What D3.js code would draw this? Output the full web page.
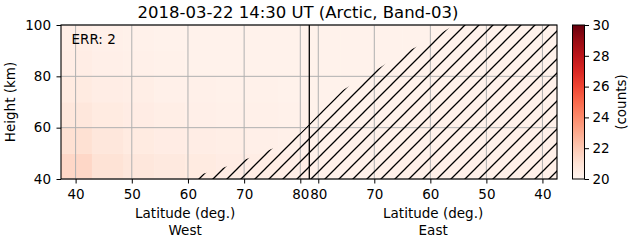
<!DOCTYPE html>
<html>
<head>
<meta charset="utf-8">
<script src="https://cdn.jsdelivr.net/npm/d3@7"></script>
<style>
  body { margin: 0; background: #fff; }
  svg { font-family: "DejaVu Sans", sans-serif; }
</style>
</head>
<body>
<script>
// data
var title = "2018-03-22 14:30 UT (Arctic, Band-03)";
var errLabel = "ERR: 2";
var latTicks = [40, 50, 60, 70, 80];
var heightTicks = [40, 60, 80, 100];
var countTicks = [20, 22, 24, 26, 28, 30];
var latDomain = [37.4, 81.6];
var heightDomain = [40, 100];
var countDomain = [20, 30];

// cell edges of the count image
var latEdges = [37.4, 42.9, 48.5, 54.0, 59.5, 65.0, 70.5, 76.1, 81.6];
var heightEdges = [40, 50, 60, 70, 80, 90, 100];

// rows go bottom to top, columns go with latitude ascending
var westCounts = [
  [21.5, 21.0, 20.8, 20.7, 20.6, 20.5, 20.45, 20.4],
  [21.1, 20.8, 20.6, 20.5, 20.45, 20.4, 20.35, 20.3],
  [20.8, 20.6, 20.5, 20.4, 20.35, 20.3, 20.3, 20.25],
  [20.6, 20.45, 20.4, 20.3, 20.3, 20.25, 20.25, 20.2],
  [20.45, 20.35, 20.3, 20.25, 20.2, 20.2, 20.2, 20.2],
  [20.4, 20.3, 20.25, 20.2, 20.2, 20.2, 20.2, 20.2]
];
var eastCounts = [
  [20.3, 20.3, 20.3, 20.3, 20.3, 20.3, 20.25, 20.25],
  [20.3, 20.3, 20.25, 20.25, 20.25, 20.25, 20.25, 20.25],
  [20.25, 20.25, 20.25, 20.25, 20.25, 20.2, 20.2, 20.2],
  [20.25, 20.25, 20.2, 20.2, 20.2, 20.2, 20.2, 20.2],
  [20.2, 20.2, 20.2, 20.2, 20.2, 20.2, 20.2, 20.2],
  [20.2, 20.2, 20.2, 20.2, 20.2, 20.2, 20.2, 20.2]
];

// edge of the hatched (no data) area, from bottom-left to top-right
var edgeSide   = ["W", "W", "W", "W", "W", "W", "W", "W", "E", "E", "E", "E", "E", "E", "E"];
var edgeLat    = [61.6, 62.7, 65.7, 68.9, 71.9, 75.7, 80.0, 81.6, 80.1, 75.6, 70.5, 65.5, 61.4, 56.6, 55.8];
var edgeHeight = [40.0, 42.0, 43.9, 46.6, 49.0, 52.5, 57.9, 61.4, 64.9, 74.7, 81.3, 88.3, 92.6, 98.8, 100.0];

// layout
var W = 631, H = 243;
var mLeft = 61, mMid = 309.3, mRight = 557, mTop = 25, mBottom = 179;
var fs = 13.5;

var svg = d3.select("body").append("svg")
  .attr("width", W)
  .attr("height", H);

var xW = d3.scaleLinear().domain(latDomain).range([mLeft, mMid]);
var xE = d3.scaleLinear().domain(latDomain.slice().reverse()).range([mMid, mRight]);
var y = d3.scaleLinear().domain(heightDomain).range([mBottom, mTop]);
var color = d3.scaleSequential(d3.interpolateReds).domain(countDomain);

function xSide(side, lat) { return side == "W" ? xW(lat) : xE(lat); }

// image cells
function drawCells(counts, xs) {
  var cells = [];
  counts.forEach(function(row, i) {
    row.forEach(function(v, j) {
      cells.push({ i: i, j: j, v: v });
    });
  });
  svg.append("g").selectAll("rect")
    .data(cells)
    .enter().append("rect")
      .attr("x", function(d) { return Math.min(xs(latEdges[d.j]), xs(latEdges[d.j + 1])); })
      .attr("width", function(d) { return Math.abs(xs(latEdges[d.j + 1]) - xs(latEdges[d.j])) + 0.5; })
      .attr("y", function(d) { return y(heightEdges[d.i + 1]); })
      .attr("height", function(d) { return y(heightEdges[d.i]) - y(heightEdges[d.i + 1]) + 0.5; })
      .attr("fill", function(d) { return color(d.v); });
}
drawCells(westCounts, xW);
drawCells(eastCounts, xE);

// grid
var grid = svg.append("g").attr("stroke", "#b0b0b0").attr("stroke-width", 1);
latTicks.forEach(function(t) {
  [xW(t), xE(t)].forEach(function(px) {
    grid.append("line").attr("x1", px).attr("x2", px).attr("y1", mTop).attr("y2", mBottom);
  });
});
heightTicks.forEach(function(t) {
  grid.append("line").attr("x1", mLeft).attr("x2", mRight).attr("y1", y(t)).attr("y2", y(t));
});

// hatch pattern for the no data area
var defs = svg.append("defs");
var pat = defs.append("pattern")
  .attr("id", "hatch")
  .attr("patternUnits", "userSpaceOnUse")
  .attr("width", 14)
  .attr("height", 14);
pat.append("path")
  .attr("d", "M-1,1 L1,-1 M0,14 L14,0 M13,15 L15,13")
  .attr("stroke", "#000")
  .attr("stroke-width", 1.3);

var pts = edgeLat.map(function(lat, k) {
  return [xSide(edgeSide[k], lat), y(edgeHeight[k])];
});
pts.push([xE(latDomain[0]), y(heightDomain[1])]);
pts.push([xE(latDomain[0]), y(heightDomain[0])]);
svg.append("path")
  .attr("d", d3.line()(pts) + "Z")
  .attr("fill", "url(#hatch)");

// divider between west and east
svg.append("line")
  .attr("x1", mMid).attr("x2", mMid)
  .attr("y1", mTop).attr("y2", mBottom)
  .attr("stroke", "#000")
  .attr("stroke-width", 1.3);

// frame
svg.append("rect")
  .attr("x", mLeft).attr("y", mTop)
  .attr("width", mRight - mLeft).attr("height", mBottom - mTop)
  .attr("fill", "none")
  .attr("stroke", "#000")
  .attr("stroke-width", 1.1);

// axes
function styleAxis(g) {
  g.select(".domain").remove();
  g.selectAll("text").attr("font-size", fs).attr("fill", "#000")
    .attr("font-family", "DejaVu Sans");
  g.selectAll("line").attr("stroke", "#000");
}
svg.append("g")
  .attr("transform", "translate(0," + mBottom + ")")
  .call(d3.axisBottom(xW).tickValues(latTicks).tickSize(4.5).tickPadding(5.5))
  .call(styleAxis);
svg.append("g")
  .attr("transform", "translate(0," + mBottom + ")")
  .call(d3.axisBottom(xE).tickValues(latTicks).tickSize(4.5).tickPadding(5.5))
  .call(styleAxis);
svg.append("g")
  .attr("transform", "translate(" + mLeft + ",0)")
  .call(d3.axisLeft(y).tickValues(heightTicks).tickSize(4.5).tickPadding(5.5))
  .call(styleAxis);

// labels
svg.append("text")
  .attr("x", 298).attr("y", 17.5)
  .attr("text-anchor", "middle")
  .attr("font-size", 16.5)
  .text(title);

svg.append("text")
  .attr("x", 71.5).attr("y", 43.5)
  .attr("font-size", fs)
  .text(errLabel);

svg.append("text")
  .attr("transform", "translate(15," + ((mTop + mBottom) / 2) + ") rotate(-90)")
  .attr("text-anchor", "middle")
  .attr("font-size", fs)
  .text("Height (km)");

[["West", (mLeft + mMid) / 2], ["East", (mMid + mRight) / 2]].forEach(function(d) {
  svg.append("text")
    .attr("x", d[1]).attr("y", 218)
    .attr("text-anchor", "middle")
    .attr("font-size", fs)
    .text("Latitude (deg.)");
  svg.append("text")
    .attr("x", d[1]).attr("y", 235)
    .attr("text-anchor", "middle")
    .attr("font-size", fs)
    .text(d[0]);
});

// colorbar
var cbX = 572.5, cbW = 12;
var cy = d3.scaleLinear().domain(countDomain).range([mBottom, mTop]);
var grad = defs.append("linearGradient")
  .attr("id", "cbar")
  .attr("x1", 0).attr("y1", 1).attr("x2", 0).attr("y2", 0);
d3.range(0, 1.0001, 0.1).forEach(function(t) {
  grad.append("stop")
    .attr("offset", t)
    .attr("stop-color", d3.interpolateReds(t));
});
svg.append("rect")
  .attr("x", cbX).attr("y", mTop)
  .attr("width", cbW).attr("height", mBottom - mTop)
  .attr("fill", "url(#cbar)")
  .attr("stroke", "#000")
  .attr("stroke-width", 1);
svg.append("g")
  .attr("transform", "translate(" + (cbX + cbW) + ",0)")
  .call(d3.axisRight(cy).tickValues(countTicks).tickSize(4.5).tickPadding(3.5))
  .call(styleAxis);
svg.append("text")
  .attr("transform", "translate(626," + ((mTop + mBottom) / 2) + ") rotate(-90)")
  .attr("text-anchor", "middle")
  .attr("font-size", fs)
  .text("(counts)");
</script>
</body>
</html>
